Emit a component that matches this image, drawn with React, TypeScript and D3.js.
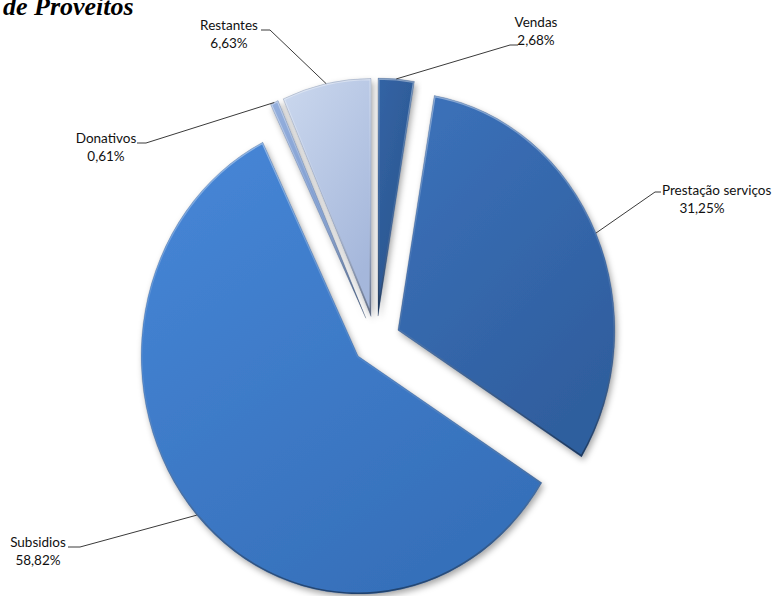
import React from "react";
import * as d3 from "d3";

// ---- data ----
const categories = ["Vendas", "Prestação serviços", "Subsidios", "Donativos", "Restantes"];
const values = [2.68, 31.25, 58.82, 0.61, 6.63];
const titleText = "de Proveitos";

// ---- layout / style ----
const W = 772;
const H = 596;
const CX = 376;
const CY = 340;
const RX = 217;
const RY = 238;
const EXPLODE = 24;
const palette: [string, string][] = [
  ["#3364a5", "#2a548d"],
  ["#3c72bb", "#2f5e9e"],
  ["#4787d8", "#3670ba"],
  ["#94afdd", "#7393c8"],
  ["#cbd8ee", "#a5b7db"],
];
type LabelPos = { x: number; y: number; anchor: string; x2?: number; hook: [number, number]; knee: [number, number] };
const labelLayout: LabelPos[] = [
  { x: 536, y: 27, anchor: "middle", hook: [518, 45], knee: [510, 45] },
  { x: 662, y: 195, anchor: "start", x2: 702, hook: [661, 192], knee: [655, 192] },
  { x: 38, y: 547, anchor: "middle", hook: [68, 547], knee: [80, 547] },
  { x: 106, y: 143, anchor: "middle", hook: [137, 143], knee: [146, 143] },
  { x: 229, y: 30, anchor: "middle", hook: [261, 30], knee: [270, 30] },
];

const fmt = (v: number) => d3.format(".2f")(v).replace(".", ",") + "%";

export default function App() {
  const pie = d3
    .pie<number>()
    .sort(null)
    .value((d) => d)
    .startAngle(0)
    .endAngle(2 * Math.PI);
  const arcs = pie(values);
  const arcGen = d3.arc<d3.PieArcDatum<number>>().innerRadius(0).outerRadius(RX);
  const k = RY / RX;

  const slices = arcs.map((a, i) => {
    const mid = (a.startAngle + a.endAngle) / 2;
    const ox = CX + EXPLODE * Math.sin(mid);
    const oy = CY - EXPLODE * Math.cos(mid);
    const edge: [number, number] = [ox + RX * Math.sin(mid), oy - RY * Math.cos(mid)];
    return { a, i, ox, oy, edge, d: arcGen(a) as string };
  });

  return (
    <svg
      width={W}
      height={H}
      style={{ position: "absolute", left: 0, top: 0, background: "#fff" }}
      xmlns="http://www.w3.org/2000/svg"
    >
      <defs>
        <filter id="shadow" x="-20%" y="-20%" width="140%" height="140%">
          <feDropShadow dx="2" dy="3" stdDeviation="3" floodColor="#000" floodOpacity="0.35" />
        </filter>
        <linearGradient id="bevel" x1="0" y1="0" x2="0" y2="1">
          <stop offset="0%" stopColor="#fff" stopOpacity="0.4" />
          <stop offset="45%" stopColor="#fff" stopOpacity="0.08" />
          <stop offset="100%" stopColor="#000" stopOpacity="0.4" />
        </linearGradient>
        {palette.map((c, i) => (
          <linearGradient key={i} id={`g${i}`} x1="0" y1="0" x2="0.6" y2="1">
            <stop offset="0%" stopColor={c[0]} />
            <stop offset="100%" stopColor={c[1]} />
          </linearGradient>
        ))}
        {slices.map((s) => (
          <clipPath key={s.i} id={`clip${s.i}`}>
            <path d={s.d} />
          </clipPath>
        ))}
      </defs>

      <text
        x={3}
        y={15}
        fontFamily="'Liberation Serif', 'Times New Roman', serif"
        fontWeight="bold"
        fontStyle="italic"
        fontSize={26}
        fill="#000"
      >
        {titleText}
      </text>

      {slices.map((s) => (
        <g key={s.i} transform={`translate(${s.ox},${s.oy}) scale(1,${k})`}>
          <path d={s.d} fill={`url(#g${s.i})`} filter="url(#shadow)" />
          <path
            d={s.d}
            fill="none"
            stroke="url(#bevel)"
            strokeWidth={3}
            clipPath={`url(#clip${s.i})`}
          />
          <path d={s.d} fill="none" stroke="rgba(20,40,80,0.3)" strokeWidth={0.6} />
        </g>
      ))}

      {slices.map((s) => {
        const L = labelLayout[s.i];
        return (
          <g key={`l${s.i}`}>
            <polyline
              points={`${L.hook[0]},${L.hook[1]} ${L.knee[0]},${L.knee[1]} ${s.edge[0]},${s.edge[1]}`}
              fill="none"
              stroke="#3a3a3a"
              strokeWidth={1}
            />
            <text fontFamily="Lato, 'Open Sans', sans-serif" fontSize={13.5} fill="#111">
              <tspan x={L.x} y={L.y} textAnchor={L.anchor}>
                {categories[s.i]}
              </tspan>
              <tspan x={L.x2 ?? L.x} y={L.y + 18} textAnchor="middle">
                {fmt(values[s.i])}
              </tspan>
            </text>
          </g>
        );
      })}
    </svg>
  );
}
